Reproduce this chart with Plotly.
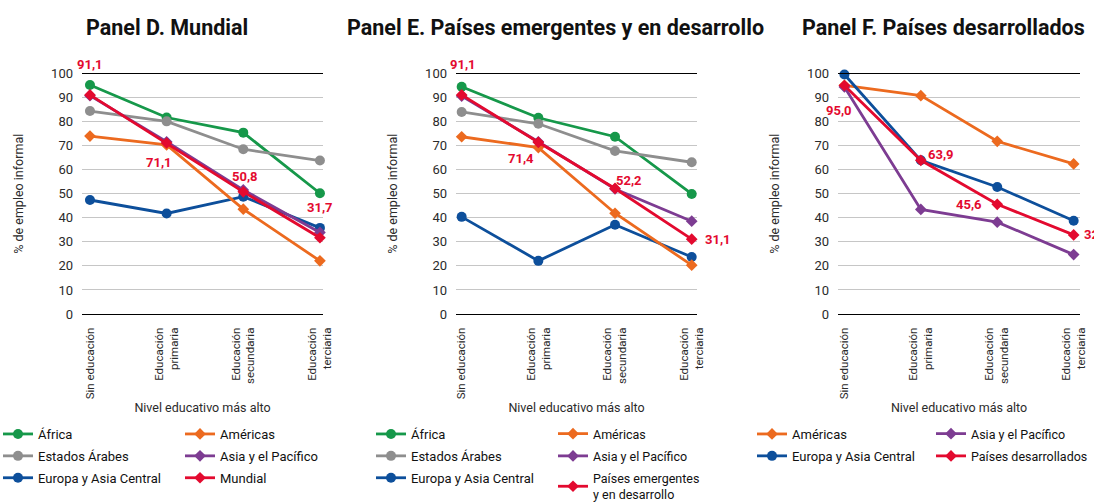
import plotly.graph_objects as go

# Nivel educativo (categorías del eje X)
niveles = ["Sin educación", "Educación<br>primaria", "Educación<br>secundaria", "Educación<br>terciaria"]

# Panel D. Mundial (% de empleo informal)
d_africa = [95.2, 81.7, 75.4, 50.2]
d_americas = [74.0, 70.3, 43.6, 22.1]
d_arabes = [84.4, 80.1, 68.5, 63.8]
d_asia = [90.8, 71.6, 51.6, 33.9]
d_europa = [47.4, 41.8, 48.8, 35.8]
d_mundial = [91.1, 71.1, 50.8, 31.7]

# Panel E. Países emergentes y en desarrollo
e_africa = [94.5, 81.6, 73.7, 49.9]
e_americas = [73.7, 69.2, 41.9, 20.3]
e_arabes = [84.0, 79.1, 67.8, 63.1]
e_asia = [90.6, 71.6, 52.0, 38.6]
e_europa = [40.4, 22.1, 37.1, 23.7]
e_emergentes = [91.1, 71.4, 52.2, 31.1]

# Panel F. Países desarrollados
f_americas = [95.1, 90.8, 71.8, 62.4]
f_asia = [94.4, 43.5, 38.2, 24.7]
f_europa = [99.6, 63.9, 52.8, 38.8]
f_desarrollados = [95.0, 63.9, 45.6, 32.9]

FONT = "Roboto, Liberation Sans, sans-serif"
TXT = "#2b2b2b"
VERDE = "#16984a"
NARANJA = "#ec6a1f"
GRIS = "#8e8e8e"
MORADO = "#7d3c92"
AZUL = "#0d4f9b"
ROJO = "#e30a2f"

W, H = 1094, 503
TOP, BOTTOM = 73.5, 314.0

fig = go.Figure()


def serie(xax, nombre, valores, color, simbolo, leyenda):
    fig.add_trace(go.Scatter(
        x=niveles, y=valores, name=nombre, mode="lines+markers",
        xaxis=xax, yaxis=xax.replace("x", "y"), legend=leyenda,
        legendgroup=f"{leyenda}-{nombre}",
        line=dict(color=color, width=2.8),
        marker=dict(color=color, symbol=simbolo,
                    size=10 if simbolo == "circle" else 9),
        cliponaxis=False, hoverinfo="skip",
    ))


# Panel D
serie("x", "África", d_africa, VERDE, "circle", "legend")
serie("x", "Estados Árabes", d_arabes, GRIS, "circle", "legend")
serie("x", "Europa y Asia Central", d_europa, AZUL, "circle", "legend")
serie("x", "Américas", d_americas, NARANJA, "diamond", "legend2")
serie("x", "Asia y el Pacífico", d_asia, MORADO, "diamond", "legend2")
serie("x", "Mundial", d_mundial, ROJO, "diamond", "legend2")

# Panel E
serie("x2", "África", e_africa, VERDE, "circle", "legend3")
serie("x2", "Estados Árabes", e_arabes, GRIS, "circle", "legend3")
serie("x2", "Europa y Asia Central", e_europa, AZUL, "circle", "legend3")
serie("x2", "Américas", e_americas, NARANJA, "diamond", "legend4")
serie("x2", "Asia y el Pacífico", e_asia, MORADO, "diamond", "legend4")
serie("x2", "Países emergentes<br>y en desarrollo", e_emergentes, ROJO, "diamond", "legend4")

# Panel F
serie("x3", "Américas", f_americas, NARANJA, "diamond", "legend5")
serie("x3", "Europa y Asia Central", f_europa, AZUL, "circle", "legend5")
serie("x3", "Asia y el Pacífico", f_asia, MORADO, "diamond", "legend6")
serie("x3", "Países desarrollados", f_desarrollados, ROJO, "diamond", "legend6")

# Dominios y rangos de cada panel (en píxeles de la figura)
paneles = [
    ("x", "y", 82, 323, (-0.104, 3.04)),
    ("x2", "y2", 456, 697, (-0.074, 3.069)),
    ("x3", "y3", 838, 1080, (-0.084, 3.083)),
]

ydom = [1 - BOTTOM / H, 1 - TOP / H]
for xa, ya, x0, x1, rng in paneles:
    xkey = "xaxis" if xa == "x" else "xaxis" + xa[1:]
    ykey = "yaxis" if ya == "y" else "yaxis" + ya[1:]
    fig.update_layout({
        xkey: dict(
            domain=[x0 / W, x1 / W], anchor=ya, type="category",
            range=list(rng), tickangle=-90, automargin=False,
            tickfont=dict(family=FONT, size=11.5, color=TXT),
            showgrid=False, showline=True, linecolor="#000", linewidth=1,
            mirror=True, ticks="", ticklabelstandoff=8,
            title=dict(text="Nivel educativo más alto", standoff=4,
                       font=dict(family=FONT, size=12.5, color=TXT)),
            fixedrange=True,
        ),
        ykey: dict(
            domain=ydom, anchor=xa, range=[0, 100], dtick=10,
            automargin=False,
            tickfont=dict(family=FONT, size=13, color=TXT),
            showgrid=True, gridcolor="#c6c6c6",
            gridwidth=1, zeroline=False, showline=False, ticks="",
            ticklabelstandoff=8,
            title=dict(text="% de empleo informal", standoff=24,
                       font=dict(family=FONT, size=12.5, color=TXT)),
            fixedrange=True,
        ),
    })

# Etiquetas de valor de la serie roja
etiquetas = [
    ("x", "y", d_mundial, [(0, 30, "center"), (-8, -19, "center"), (2, 15, "center"), (0, 30, "center")]),
    ("x2", "y2", e_emergentes, [(1, 30, "center"), (-17, -16, "center"), (14, 8, "center"), (11, 0, "left")]),
    ("x3", "y3", f_desarrollados, [(-5, -25, "center"), (20, 6, "center"), (-28, 0, "center"), (8, 0, "left")]),
]
for xa, ya, vals, offs in etiquetas:
    for cat, v, (dx, dy, anc) in zip(niveles, vals, offs):
        fig.add_annotation(
            x=cat, y=v, xref=xa, yref=ya, text=f"{v:.1f}".replace(".", ","),
            showarrow=False, xshift=dx, yshift=dy, xanchor=anc,
            font=dict(family=FONT, size=13, color=ROJO, weight="bold"),
        )

# Títulos de los paneles
titulos = [("Panel D. Mundial", 167), ("Panel E. Países emergentes y en desarrollo", 555),
           ("Panel F. Países desarrollados", 943)]
for txt, cx in titulos:
    fig.add_annotation(
        x=cx / W, y=1 - 27 / H, xref="paper", yref="paper", text=txt,
        showarrow=False, xanchor="center", yanchor="middle",
        font=dict(family=FONT, size=21.5, color="#111", weight="bold"),
    )

# Leyendas: dos columnas por panel (x en píxeles, tamaño de letra)
posiciones = {
    "legend": (-2, 13), "legend2": (180, 13), "legend3": (371, 13),
    "legend4": (553, 12.5), "legend5": (752, 13), "legend6": (931, 12.5),
}
for key, (px, fs) in posiciones.items():
    fig.update_layout({key: dict(
        x=px / W, y=1 - 419 / H, xanchor="left", yanchor="top",
        orientation="v", font=dict(family=FONT, size=fs, color="#111"),
        bgcolor="rgba(0,0,0,0)", borderwidth=0, itemwidth=30,
        tracegroupgap=2 if fs == 13 else 3,
    )})

fig.update_layout(
    width=W, height=H,
    margin=dict(l=0, r=0, t=0, b=0, pad=0, autoexpand=False),
    paper_bgcolor="white", plot_bgcolor="white",
    font=dict(family=FONT, color=TXT),
    showlegend=True,
)

fig.write_html("out.html", config={"displayModeBar": False})
